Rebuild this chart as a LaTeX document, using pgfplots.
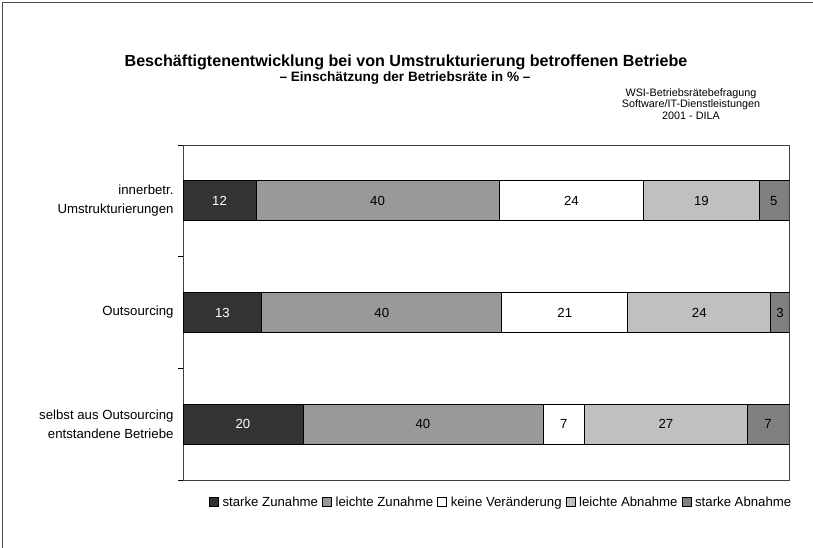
\documentclass[border=0pt]{standalone}
\usepackage{pgfplots}
\pgfplotsset{compat=1.18}
\usepackage{fontspec}
\setmainfont{Liberation Sans}
\definecolor{cA}{HTML}{333333}
\definecolor{cB}{HTML}{999999}
\definecolor{cC}{HTML}{FFFFFF}
\definecolor{cD}{HTML}{C0C0C0}
\definecolor{cE}{HTML}{808080}
\pgfplotsset{
  common/.style={at={(183pt,68pt)}, anchor=south west, scale only axis,
    width=606pt, height=335pt,
    xmin=0, xmax=100, ymin=0.5, ymax=3.5, y dir=reverse},
}
\begin{document}
\begin{tikzpicture}
\useasboundingbox (0pt,0pt) rectangle (813pt,548pt);
\draw[line width=1pt, black!70] (2pt,0pt) -- (2pt,545pt) -- (813pt,545pt);
\node[font=\bfseries\fontsize{16.1}{18}\selectfont] at (406pt,486pt) {Beschäftigtenentwicklung bei von Umstrukturierung betroffenen Betriebe};
\node[font=\bfseries\fontsize{13.6}{15}\selectfont] at (405pt,470pt) {-- Einschätzung der Betriebsräte in \% --};
\node[align=center, font=\fontsize{10.8}{11.6}\selectfont] at (691pt,444pt) {WSI-Betriebsrätebefragung\\Software/IT-Dienstleistungen\\2001 - DILA};
\begin{axis}[common,
  xbar stacked, bar width=40pt,
  xtick=\empty,
  ytick={1,2,3},
  yticklabels={{innerbetr.\\Umstrukturierungen},{Outsourcing},{selbst aus Outsourcing\\entstandene Betriebe}},
  yticklabel style={align=right, font=\fontsize{13.2}{19}\selectfont, xshift=-6pt},
  major tick length=0pt,
  minor ytick={0.5,1.5,2.5,3.5},
  minor tick length=5pt,
  tick align=outside,
  ytick pos=left,
  tick style={black, line width=0.8pt},
  axis line style={black!75, line width=0.8pt},
  legend style={at={(0.525,-0.066)}, anchor=center, legend columns=-1, draw=none, font=\fontsize{13.2}{15}\selectfont,
    /tikz/every odd column/.append style={column sep=2pt},
    /tikz/every even column/.append style={column sep=2pt}},
  legend image code/.code={\draw[#1, draw=black, line width=0.6pt] (0pt,-4.5pt) rectangle (9pt,4.5pt);},
]
\addplot[fill=cA, draw=black, line width=0.8pt] coordinates {(12.05,1) (13.0,2) (19.8,3)};
\addplot[fill=cB, draw=black, line width=0.8pt] coordinates {(40.1,1) (39.6,2) (39.6,3)};
\addplot[fill=cC, draw=black, line width=0.8pt] coordinates {(23.9,1) (20.8,2) (6.9,3)};
\addplot[fill=cD, draw=black, line width=0.8pt] coordinates {(19.0,1) (23.6,2) (26.8,3)};
\addplot[fill=cE, draw=black, line width=0.8pt] coordinates {(4.95,1) (3.0,2) (6.9,3)};
\legend{starke Zunahme, leichte Zunahme, keine Veränderung, leichte Abnahme, starke Abnahme}
\end{axis}
\begin{axis}[common, hide axis,
  nodes near coords, point meta=explicit symbolic,
  nodes near coords align=center,
  every node near coord/.append style={anchor=center, font=\fontsize{13.2}{15}\selectfont}]
\addplot[only marks, mark=none, every node near coord/.append style={text=white}] coordinates {(6.03,1) [12] (6.5,2) [13] (9.9,3) [20]};
\addplot[only marks, mark=none] coordinates {(32.1,1) [40] (64.1,1) [24] (85.55,1) [19] (97.5,1) [5]
  (32.8,2) [40] (63.0,2) [21] (85.2,2) [24] (98.5,2) [3]
  (39.6,3) [40] (62.85,3) [7] (79.7,3) [27] (96.55,3) [7]};
\end{axis}
\end{tikzpicture}
\end{document}
